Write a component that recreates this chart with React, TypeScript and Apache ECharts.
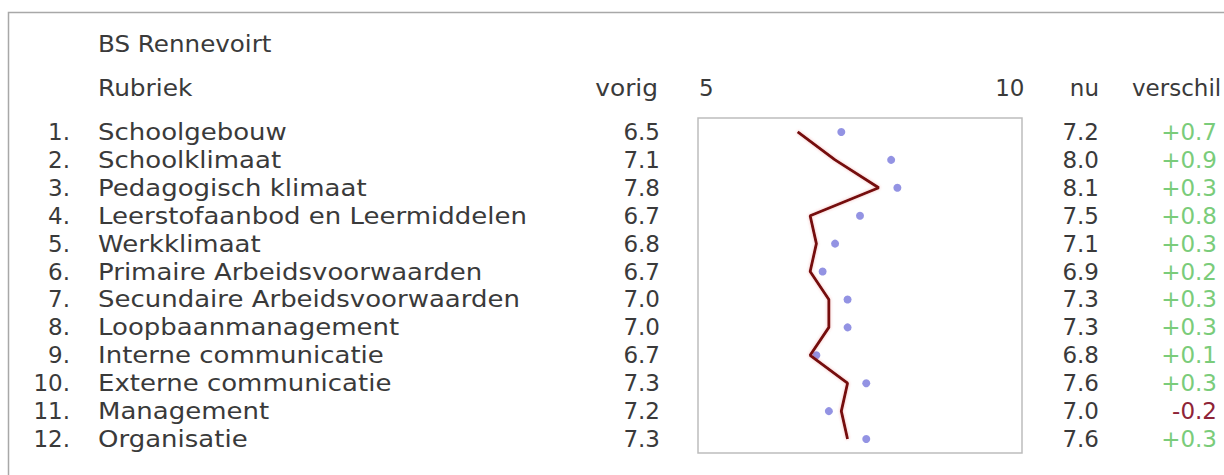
import React, { useEffect, useRef } from "react";
import * as echarts from "echarts";

const schoolName = "BS Rennevoirt";
const categories = [
  "Schoolgebouw",
  "Schoolklimaat",
  "Pedagogisch klimaat",
  "Leerstofaanbod en Leermiddelen",
  "Werkklimaat",
  "Primaire Arbeidsvoorwaarden",
  "Secundaire Arbeidsvoorwaarden",
  "Loopbaanmanagement",
  "Interne communicatie",
  "Externe communicatie",
  "Management",
  "Organisatie",
];
const vorig = [6.5, 7.1, 7.8, 6.7, 6.8, 6.7, 7.0, 7.0, 6.7, 7.3, 7.2, 7.3];
const nu = [7.2, 8.0, 8.1, 7.5, 7.1, 6.9, 7.3, 7.3, 6.8, 7.6, 7.0, 7.6];
const verschil = ["+0.7", "+0.9", "+0.3", "+0.8", "+0.3", "+0.2", "+0.3", "+0.3", "+0.1", "+0.3", "-0.2", "+0.3"];
const scaleTicks = [5, 10];

const FONT = "DejaVu Sans";
const FS = 23;
const TXT = "#3a3a3a";

const GRID = { left: 698, top: 118, width: 324, height: 335 };

export default function App() {
  const ref = useRef<HTMLDivElement>(null);
  useEffect(() => {
    if (!ref.current) return;
    const chart = echarts.init(ref.current, null, { renderer: "svg" });
    const baseY = (extra: any) => ({
      type: "category",
      inverse: true,
      boundaryGap: true,
      gridIndex: 0,
      axisLine: { show: false },
      axisTick: { show: false },
      splitLine: { show: false },
      ...extra,
      axisLabel: {
        interval: 0,
        fontFamily: FONT,
        fontSize: FS,
        color: TXT,
        verticalAlign: "middle",
        ...extra.axisLabel,
      },
    });
    const headerText = (x: number, y: number, text: string, align: string, sx = 1) => ({
      type: "text",
      x,
      y,
      scaleX: sx,
      style: {
        text,
        fontFamily: FONT,
        fontSize: FS,
        fill: TXT,
        align,
        verticalAlign: "middle",
      },
    });
    chart.setOption({
      animation: false,
      backgroundColor: "#ffffff",
      grid: {
        ...GRID,
        show: true,
        borderColor: "#bdbdbd",
        borderWidth: 1.5,
        containLabel: false,
        outerBoundsMode: "none",
      },
      xAxis: {
        type: "value",
        position: "top",
        min: 4.9,
        max: 10.1,
        axisLine: { show: false },
        axisTick: { show: false },
        splitLine: { show: false },
        axisLabel: {
          customValues: scaleTicks,
          margin: 30,
          verticalAlign: "middle",
          fontFamily: FONT,
          fontSize: FS,
          color: TXT,
          showMinLabel: true,
          showMaxLabel: true,
          formatter: (v: number) => (v >= 10 ? `{r|${v}}` : `{l|${v}}`),
          rich: {
            l: { fontFamily: FONT, fontSize: FS, color: TXT, padding: [0, 0, 0, 4] },
            r: { fontFamily: FONT, fontSize: FS, color: TXT, padding: [0, 12, 0, 0] },
          },
        },
      },
      yAxis: [
        baseY({
          data: categories,
          position: "left",
          axisLabel: { show: false },
        }),
        baseY({
          data: categories.map((_, i) => `${i + 1}.`),
          position: "left",
          axisLabel: { align: "right", margin: GRID.left - 70 },
        }),
        baseY({
          data: vorig.map((v) => v.toFixed(1)),
          position: "left",
          axisLabel: { align: "right", margin: 38 },
        }),
        baseY({
          data: nu.map((v) => v.toFixed(1)),
          position: "right",
          axisLabel: { align: "right", margin: 77 },
        }),
        baseY({
          data: verschil,
          position: "right",
          axisLabel: {
            align: "right",
            margin: 195,
            formatter: (v: string) => (v.startsWith("-") ? `{neg|${v}}` : `{pos|${v}}`),
            rich: {
              pos: { color: "#7acc7a", fontFamily: FONT, fontSize: FS },
              neg: { color: "#8e2437", fontFamily: FONT, fontSize: FS },
            },
          },
        }),
      ],
      series: [
        {
          type: "custom",
          xAxisIndex: 0,
          yAxisIndex: 0,
          clip: false,
          silent: true,
          data: categories.map((c, i) => [5, i]),
          renderItem: (params: any, api: any) => {
            const i = params.dataIndex;
            const y = api.coord([api.value(0), i])[1];
            return {
              type: "text",
              x: 98,
              y,
              scaleX: 1.13,
              style: {
                text: categories[i],
                fontFamily: FONT,
                fontSize: FS,
                fill: TXT,
                align: "left",
                verticalAlign: "middle",
              },
            };
          },
        },
        {
          type: "scatter",
          xAxisIndex: 0,
          yAxisIndex: 0,
          data: nu.map((v, i) => [v, categories[i]]),
          symbol: "circle",
          symbolSize: 8,
          itemStyle: { color: "#7878dc" },
          z: 2,
        },
        {
          type: "line",
          xAxisIndex: 0,
          yAxisIndex: 0,
          data: vorig.map((v, i) => [v, categories[i]]),
          showSymbol: false,
          symbol: "none",
          lineStyle: {
            color: "#74100f",
            width: 2.8,
            shadowColor: "rgba(220,60,60,0.35)",
            shadowBlur: 3,
          },
          z: 3,
        },
      ],
      graphic: [
        {
          type: "rect",
          shape: { x: 8.5, y: 12.5, width: 1400, height: 600 },
          style: { fill: "none", stroke: "#a8a8a8", lineWidth: 1.5 },
          silent: true,
        },
        headerText(98, 44, schoolName, "left", 1.07),
        headerText(98, 88, "Rubriek", "left", 1.08),
        headerText(658, 88, "vorig", "right", 1.08),
        headerText(1099, 88, "nu", "right"),
        headerText(1132, 88, "verschil", "left"),
      ],
    });
    return () => chart.dispose();
  }, []);
  return (
    <div
      ref={ref}
      style={{ position: "fixed", left: 0, top: 0, width: 1224, height: 475 }}
    />
  );
}
